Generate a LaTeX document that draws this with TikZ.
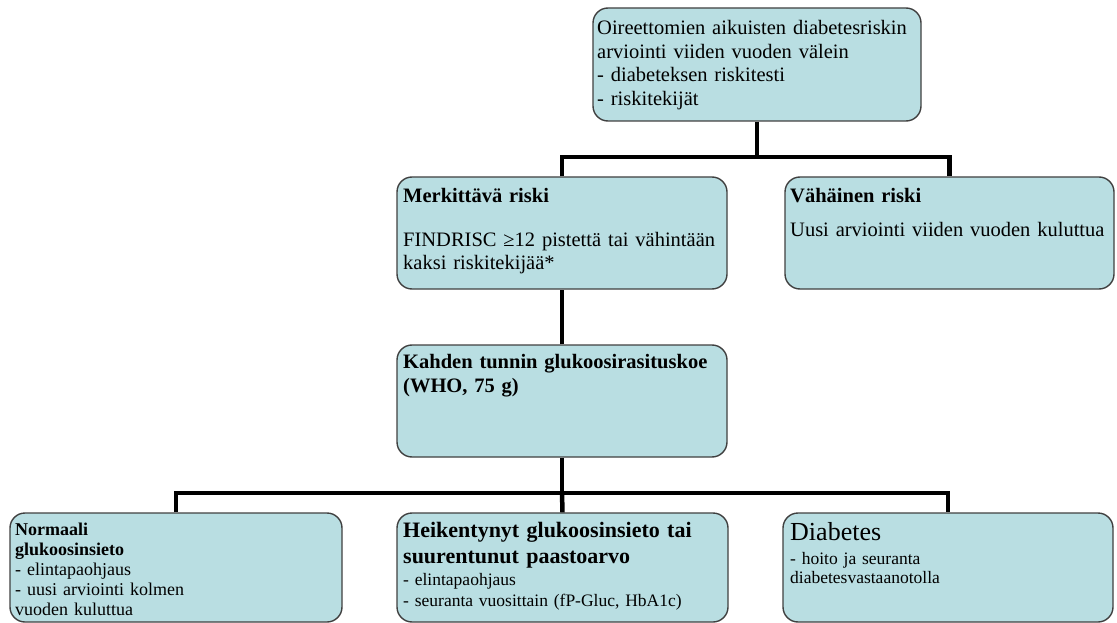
\documentclass[tikz,border=0pt]{standalone}
\usepackage{fontspec}
\setmainfont{Liberation Serif}
\definecolor{boxfill}{RGB}{185,222,226}
\definecolor{boxline}{RGB}{64,64,64}
\tikzset{
  box/.style={draw=boxline, fill=boxfill, line width=1.4pt, rounded corners=15pt, inner sep=0pt},
  txt/.style={anchor=base west, inner sep=0pt, align=left, text width=#1},
  conn/.style={draw=black, line width=4.5pt, line join=miter}
}
\newcommand{\fz}[2]{\fontsize{#1}{#2}\selectfont}
\begin{document}
\begin{tikzpicture}[x=1pt,y=-1pt]
\useasboundingbox (0,0) rectangle (1117,623);
% boxes
\node[box, minimum width=328pt, minimum height=113pt] (top) at (757,64.5) {};
\node[box, minimum width=330pt, minimum height=112pt] (merk) at (562,233) {};
\node[box, minimum width=329pt, minimum height=112pt] (vah) at (949.5,233) {};
\node[box, minimum width=330pt, minimum height=112pt] (kah) at (562,401) {};
\node[box, minimum width=332pt, minimum height=109pt] (norm) at (176,567.5) {};
\node[box, minimum width=331pt, minimum height=109pt] (heik) at (562.5,567.5) {};
\node[box, minimum width=330pt, minimum height=109pt] (diab) at (948,567.5) {};
% connectors
\coordinate (j1) at (757,157);
\coordinate (j2) at (562,493);
\draw[conn] (top.south) -- (j1);
\draw[conn] (merk.north) |- (j1) -| (vah.north);
\draw[conn] (kah.north) -- (merk.south);
\draw[conn] (kah.south) -- (j2);
\draw[conn] (norm.north) |- (j2) -| (diab.north);
\draw[conn] (heik.north) -- (j2);
% texts
\node[txt=320pt, font=\fz{20.5}{23.5}] (topT) at (597,35)
  {Oireettomien aikuisten diabetesriskin\\ arviointi viiden vuoden välein\\ - diabeteksen riskitesti\\ - riskitekijät};
\node[txt=320pt, font=\fz{20.5}{22.5}] (merkT) at (403,202)
  {\textbf{Merkittävä riski}\\[22pt] FINDRISC ≥12 pistettä tai vähintään\\ kaksi riskitekijää*};
\node[txt=320pt, font=\fz{20.5}{22}] (vahT) at (790,202)
  {\textbf{Vähäinen riski}\\[13pt] Uusi arviointi viiden vuoden kuluttua};
\node[txt=320pt, font=\fz{20.5}{24}\bfseries] (kahT) at (403,368)
  {Kahden tunnin glukoosirasituskoe\\ (WHO, 75 g)};
\node[txt=320pt, font=\fz{18}{20}] (normT) at (15,535)
  {\textbf{Normaali}\\ \textbf{glukoosinsieto}\\ - elintapaohjaus\\ - uusi arviointi kolmen\\ vuoden kuluttua};
\node[txt=320pt, font=\fz{22}{26}\bfseries] (heikT1) at (403,537)
  {Heikentynyt glukoosinsieto tai\\ suurentunut paastoarvo};
\node[txt=320pt, font=\fz{17.5}{21}] (heikT2) at (403,585)
  {- elintapaohjaus\\ - seuranta vuosittain (fP-Gluc, HbA1c)};
\node[txt=320pt, font=\fz{26}{30}] (diabT1) at (790,540) {Diabetes};
\node[txt=320pt, font=\fz{17.5}{19}] (diabT2) at (790,564)
  {- hoito ja seuranta\\ diabetesvastaanotolla};
\end{tikzpicture}
\end{document}
